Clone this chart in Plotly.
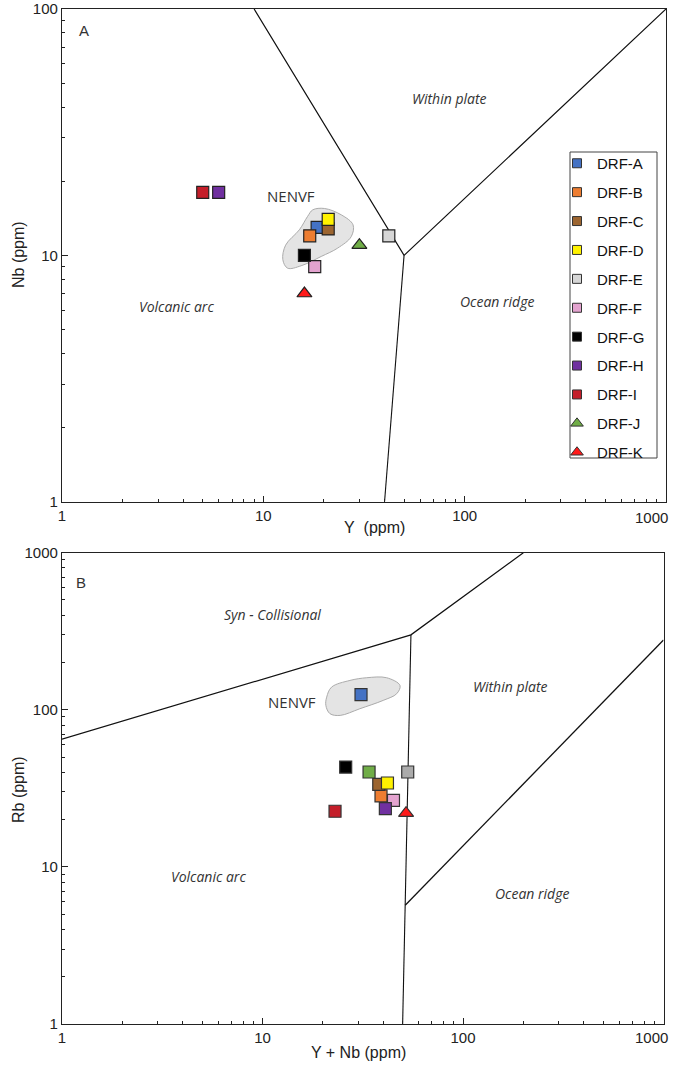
import plotly.graph_objects as go

# ---------------- data ----------------
samples = ["DRF-A", "DRF-B", "DRF-C", "DRF-D", "DRF-E", "DRF-F",
           "DRF-G", "DRF-H", "DRF-I", "DRF-J", "DRF-K"]
colors = ["#4472C4", "#ED7D31", "#9C6530", "#FFF200", "#D6D6D6", "#E3A3CF",
          "#000000", "#7030A0", "#C41E2A", "#70AD47", "#FF1A1A"]
colors_b = ["#4472C4", "#ED7D31", "#9C6530", "#FFF200", "#ABABAB", "#E3A3CF",
            "#000000", "#7030A0", "#C41E2A", "#70AD47", "#FF1A1A"]
symbols_a = ["square"] * 9 + ["triangle-up", "triangle-up"]
symbols_b = ["square"] * 10 + ["triangle-up"]

# Panel A: Y vs Nb (ppm)
y_a = [18.5, 17, 21, 21, 42, 18, 16, 6, 5, 30, 16]
nb_a = [13, 12, 12.8, 14, 12, 9, 10, 18, 18, 11, 7]

# Panel B: Y+Nb vs Rb (ppm)
ynb_b = [31, 39, 38, 42, 53, 45, 26, 41, 23, 34, 52]
rb_b = [125, 28.3, 33.5, 34.2, 40.2, 26.5, 43.2, 23.5, 22.6, 40.2, 22]

# NENVF field outlines
nenvf_a_x = [17.6, 20.1, 24.4, 27.9, 27.3, 23.4, 19.4, 15.4, 13.2, 12.5, 12.9, 15.1, 16.6, 17.6]
nenvf_a_y = [15.3, 15.5, 14.6, 13.3, 11.9, 10.7, 9.9, 9.07, 8.87, 9.6, 11.0, 12.7, 14.4, 15.3]
nenvf_b_x = [20.9, 22.1, 27.3, 33.1, 41.6, 48.5, 46.7, 40.0, 30.6, 24.4, 21.7, 20.7, 20.9]
nenvf_b_y = [120.4, 139.4, 153.8, 160, 160, 142.9, 126.6, 114.8, 101.6, 92.1, 94.5, 106.7, 120.4]

# Discrimination boundaries (Pearce et al.)
bound_a1_x = [9, 50, 1000]
bound_a1_y = [100, 10, 100]
bound_a2_x = [40, 50]
bound_a2_y = [1, 10]
bound_b1_x = [1, 55, 200]
bound_b1_y = [65, 300, 1000]
bound_b2_x = [55, 50]
bound_b2_y = [300, 1]
bound_b3_x = [51.5, 1000]
bound_b3_y = [5.7, 278]

tick_vals = [1, 10, 100, 1000]
tick_text = ["1", "10", "100", "1000"]
minor_vals = [m * 10 ** e for e in range(0, 3) for m in range(2, 10)]

# ---------------- figure ----------------
W, H = 673, 1065
ML, MR, MT, MB = 62, 7, 9, 41
PW, PH = W - ML - MR, H - MT - MB


def px(xp, yp):
    return (xp - ML) / PW, (H - MB - yp) / PH


fig = go.Figure()

# NENVF fields
fig.add_trace(go.Scatter(x=nenvf_a_x, y=nenvf_a_y, mode="lines", fill="toself",
                         fillcolor="#E4E4E4", line=dict(color="#ABABAB", width=1, shape="spline"),
                         showlegend=False, hoverinfo="skip", xaxis="x", yaxis="y"))
fig.add_trace(go.Scatter(x=nenvf_b_x, y=nenvf_b_y, mode="lines", fill="toself",
                         fillcolor="#E4E4E4", line=dict(color="#ABABAB", width=1, shape="spline"),
                         showlegend=False, hoverinfo="skip", xaxis="x2", yaxis="y2"))

# boundaries
for bx, by, ax, w in [(bound_a1_x, bound_a1_y, 1, 1.2), (bound_a2_x, bound_a2_y, 1, 1.1),
                      (bound_b1_x, bound_b1_y, 2, 1.2), (bound_b2_x, bound_b2_y, 2, 1.1),
                      (bound_b3_x, bound_b3_y, 2, 1.3)]:
    fig.add_trace(go.Scatter(x=bx, y=by, mode="lines", line=dict(color="#111111", width=w),
                             showlegend=False, hoverinfo="skip",
                             xaxis="x" if ax == 1 else "x2", yaxis="y" if ax == 1 else "y2"))

# samples
for i, s in enumerate(samples):
    fig.add_trace(go.Scatter(x=[y_a[i]], y=[nb_a[i]], mode="markers", name=s,
                             legendgroup=s, showlegend=False,
                             marker=dict(symbol=symbols_a[i], size=12 if symbols_a[i] == "square" else 13,
                                         color=colors[i], line=dict(color="#222222", width=1.2)),
                             xaxis="x", yaxis="y"))
    fig.add_trace(go.Scatter(x=[ynb_b[i]], y=[rb_b[i]], mode="markers", name=s,
                             legendgroup=s, showlegend=False,
                             marker=dict(symbol=symbols_b[i], size=12 if symbols_b[i] == "square" else 13,
                                         color=colors_b[i], line=dict(color="#333333", width=1.2)),
                             xaxis="x2", yaxis="y2"))
    # legend entry (smaller symbol, as in the reference legend)
    fig.add_trace(go.Scatter(x=[None], y=[None], mode="markers", name=s,
                             legendgroup=s, showlegend=True,
                             marker=dict(symbol=symbols_a[i], size=9 if symbols_a[i] == "square" else 11,
                                         color=colors[i], line=dict(color="#333333", width=1)),
                             xaxis="x", yaxis="y"))

tick_font = dict(family="Liberation Sans, Arial", size=15, color="#222222")
axis_common = dict(type="log", showline=True, mirror=True, linecolor="#222222", linewidth=1.3,
                   ticks="inside", ticklen=6, tickcolor="#222222", tickwidth=1,
                   tickmode="array", tickvals=tick_vals, ticktext=tick_text,
                   showgrid=False, zeroline=False, automargin=False,
                   tickfont=tick_font,
                   minor=dict(tickmode="array", tickvals=minor_vals, ticks="inside", ticklen=3,
                              tickcolor="#222222", showgrid=False))

# x tick labels: last label is drawn separately, pulled in from the page edge as in the reference
x_axis_extra = dict(ticktext=tick_text[:-1] + [""])

ya_top = (H - MB - 501.7) / PH
yb_top = (H - MB - 552.7) / PH
xb_right = (663.5 - ML) / PW

# legend frame as a rectangle (reference box)
lx0, ly0 = px(570, 152)
lx1, ly1 = px(657, 458)

fig.update_layout(
    width=W, height=H,
    margin=dict(l=ML, r=MR, t=MT, b=MB, autoexpand=False),
    paper_bgcolor="white", plot_bgcolor="white",
    xaxis=dict(axis_common, **x_axis_extra, domain=[0, 1], range=[0, 3], anchor="y"),
    yaxis=dict(axis_common, domain=[ya_top, 1], range=[0, 2], anchor="x"),
    xaxis2=dict(axis_common, **x_axis_extra, domain=[0, xb_right], range=[0, 3], anchor="y2"),
    yaxis2=dict(axis_common, domain=[0, yb_top], range=[0, 3], anchor="x2"),
    showlegend=True,
    legend=dict(x=px(557, 147)[0], y=px(557, 147)[1], xanchor="left", yanchor="top",
                bgcolor="rgba(0,0,0,0)", borderwidth=0,
                font=dict(family="Liberation Sans, Arial", size=15, color="#111111"),
                tracegroupgap=6.4),
    shapes=[dict(type="rect", xref="paper", yref="paper", x0=lx0, y0=ly0, x1=lx1, y1=ly1,
                 line=dict(color="#444444", width=1), fillcolor="white", layer="below")],
)

# last x tick labels (right-aligned at page edge)
for yp in (517, 1037):
    ax_, ay_ = px(670, yp)
    fig.add_annotation(x=ax_, y=ay_, xref="paper", yref="paper", text=tick_text[-1],
                       showarrow=False, xanchor="right", yanchor="middle", font=tick_font)

labels = [
    ("A", 84, 30, "Liberation Sans, Arial", 15, False),
    ("Within plate", 450, 98, "Open Sans", 14, True),
    ("NENVF", 291, 196, "Open Sans", 15, False),
    ("Volcanic arc", 176, 307, "Open Sans", 14, True),
    ("Ocean ridge", 497, 302, "Open Sans", 14, True),
    ("B", 81, 582, "Liberation Sans, Arial", 15, False),
    ("Syn - Collisional", 272, 614, "Open Sans", 14, True),
    ("NENVF", 292, 702, "Open Sans", 15, False),
    ("Within plate", 510, 687, "Open Sans", 14, True),
    ("Volcanic arc", 208, 877, "Open Sans", 14, True),
    ("Ocean ridge", 532, 893, "Open Sans", 14, True),
]
for t, xp, yp, fam, sz, it in labels:
    ax_, ay_ = px(xp, yp)
    fig.add_annotation(x=ax_, y=ay_, xref="paper", yref="paper", text=t, showarrow=False,
                       xanchor="center", yanchor="middle",
                       font=dict(family=fam, size=sz, color="#333333",
                                 style="italic" if it else "normal"))

titles = [
    ("Y  (ppm)", 374, 527, 0),
    ("Nb (ppm)", 18, 255, -90),
    ("Y + Nb (ppm)", 358, 1052, 0),
    ("Rb (ppm)", 18, 790, -90),
]
for t, xp, yp, ang in titles:
    ax_, ay_ = px(xp, yp)
    fig.add_annotation(x=ax_, y=ay_, xref="paper", yref="paper", text=t.replace("  ", "&nbsp; "),
                       showarrow=False, textangle=ang, xanchor="center", yanchor="middle",
                       font=dict(family="Liberation Sans, Arial", size=16, color="#222222"))

fig.write_html("out.html", config={"displayModeBar": False},
               post_script="document.body.style.margin='0';document.body.style.overflow='hidden';")
